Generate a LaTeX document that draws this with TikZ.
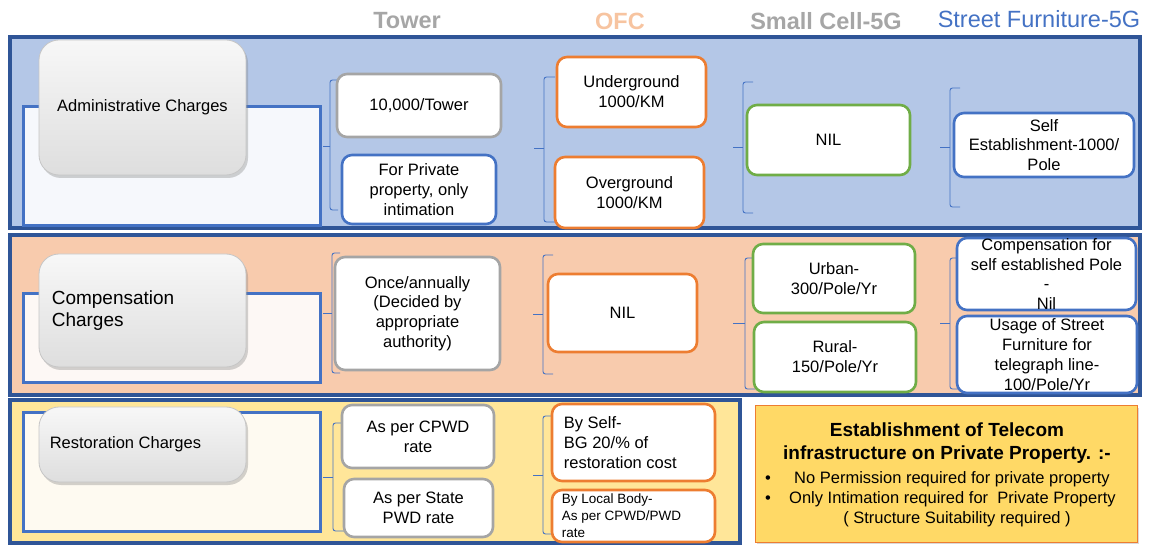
\documentclass[tikz,border=0pt]{standalone}
\usepackage{fontspec}
\setmainfont{Liberation Sans}
\usetikzlibrary{shadows}

\definecolor{frameblue}{HTML}{2F5597}
\definecolor{accblue}{HTML}{4472C4}
\definecolor{accorange}{HTML}{ED7D31}
\definecolor{accgreen}{HTML}{70AD47}
\definecolor{accgray}{HTML}{A5A5A5}
\definecolor{hdgray}{HTML}{A6A6A6}
\definecolor{hdpeach}{HTML}{F7C4A0}
\definecolor{bandblue}{HTML}{B4C7E7}
\definecolor{bandpeach}{HTML}{F8CBAD}
\definecolor{bandyellow}{HTML}{FFE699}
\definecolor{paneblue}{HTML}{F6F8FC}
\definecolor{panepeach}{HTML}{FDF8F5}
\definecolor{paneyellow}{HTML}{FEFAF1}
\definecolor{notefill}{HTML}{FFD966}

\newcommand\fs[1]{\fontsize{#1}{\dimexpr #1pt*6/5\relax}\selectfont}

\tikzset{
  x=1pt, y=-1pt,
  band/.style={draw=frameblue, line width=3.6pt},
  pane/.style={draw=accblue, line width=3pt},
  head/.style={draw=gray!45, line width=0.8pt, rounded corners=20pt,
    top color=gray!6, bottom color=gray!26,
    drop shadow={shadow xshift=2pt, shadow yshift=-3pt, opacity=0.35}},
  item/.style={fill=white, rounded corners=10pt, line width=2.6pt},
  grayitem/.style={item, draw=accgray},
  blueitem/.style={item, draw=accblue},
  orangeitem/.style={item, draw=accorange},
  greenitem/.style={item, draw=accgreen},
  note/.style={fill=notefill, draw=accorange, line width=1pt,
    drop shadow={shadow xshift=2pt, shadow yshift=-2pt, opacity=0.3}},
  txt/.style={align=center, font=\fs{16.5}, inner sep=0pt},
  brk/.style={draw=accblue, line width=0.9pt, rounded corners=2.5pt},
  colhead/.style={font=\bfseries\fs{23.5}},
}

% box from corner (x1,y1) to corner (x2,y2)
\newcommand\boxat[6]{\node[#1, inner sep=0pt,
    minimum width={(#5-#3)*1pt}, minimum height={(#6-#4)*1pt}]
    (#2) at ({(#3+#5)/2},{(#4+#6)/2}) {};}
% box with centred text
\newcommand\placebox[7]{\boxat{#1}{#2}{#3}{#4}{#5}{#6}%
  \node[txt] (#2-t) at (#2.center) {#7};}
% box with left-aligned text; the optional argument carries the indent
\newcommand\placeboxL[8][]{\boxat{#2}{#3}{#4}{#5}{#6}{#7}%
  \node[txt, align=left, anchor=west, #1] (#3-t) at (#3.west) {#8};}
% bracket: x, top, bottom, tip y, tip x, tick x
\newcommand\sidebrace[6]{%
  \draw[brk] (#6,#2) -- (#1,#2) -- (#1,#3) -- (#6,#3);
  \draw[brk] (#1,#4) -- (#5,#4);}

\begin{document}
\begin{tikzpicture}
\useasboundingbox (0,0) rectangle (1152,545);

% column headings
\node[colhead, text=hdgray] (h1) at (407,21) {Tower};
\node[colhead, text=hdpeach] (h2) at (620,21) {OFC};
\node[colhead, text=hdgray] (h3) at (826,21) {Small Cell-5G};
\node[font=\fs{23.5}, text=accblue] (h4) at (1039,19) {Street Furniture-5G};

% bands
\boxat{band, fill=bandblue}{b1}{10}{37}{1140}{228}
\boxat{band, fill=bandpeach}{b2}{10}{235}{1140}{395}
\boxat{band, fill=bandyellow}{b3}{10}{400}{740}{543}

% panes behind the row headings
\boxat{pane, fill=paneblue}{p1}{23}{107}{320}{226}
\boxat{pane, fill=panepeach}{p2}{23}{294}{320}{383}
\boxat{pane, fill=paneyellow}{p3}{23}{413}{320}{531}

% row headings
\placebox{head}{a0}{39}{40}{246}{175}{Administrative Charges}
\placeboxL[xshift=13pt, font=\fontsize{19}{21.5}\selectfont]{head}{c0}{39}{254}{246}{367}{Compensation\\Charges}
\placeboxL[xshift=11pt]{head}{r0}{39}{407}{246}{482}{Restoration Charges}

% ---- administrative charges
\sidebrace{330}{80}{210}{146}{323}{338}
\placebox{grayitem}{a1}{337}{74}{501}{137}{10,000/Tower}
\placebox{blueitem}{a2}{342}{155}{496}{224}{For Private\\property, only\\intimation}
\sidebrace{544}{77}{222}{148}{534}{555}
\placebox{orangeitem}{a3}{557}{57}{706}{127}{Underground\\1000/KM}
\placebox{orangeitem}{a4}{555}{157}{704}{228}{Overground\\1000/KM}
\sidebrace{743}{82}{213}{147}{733}{753}
\placebox{greenitem}{a5}{747}{105}{910}{175}{NIL}
\sidebrace{950}{88}{207}{147}{940}{960}
\placebox{blueitem}{a6}{954}{113}{1134}{177}{Self\\Establishment-1000/\\Pole}

% ---- compensation charges
\sidebrace{332}{253}{373}{313}{323}{340}
\placebox{grayitem}{c1}{335}{257}{500}{370}{Once/annually\\(Decided by\\appropriate\\authority)}
\sidebrace{543}{255}{374}{314}{533}{553}
\placebox{orangeitem}{c2}{548}{274}{697}{352}{NIL}
\sidebrace{745}{258}{389}{323}{733}{755}
\placebox{greenitem}{c3}{753}{244}{915}{313}{Urban-\\300/Pole/Yr}
\placebox{greenitem}{c4}{754}{322}{916}{392}{Rural-\\150/Pole/Yr}
\sidebrace{950}{258}{389}{323}{940}{960}
\placebox{blueitem}{c5}{957}{238}{1136}{310}{Compensation for\\self established Pole\\-\\Nil}
\placebox{blueitem}{c6}{957}{316}{1137}{393}{Usage of Street\\Furniture for\\telegraph line-\\100/Pole/Yr}

% ---- restoration charges
\sidebrace{333}{423}{531}{477}{323}{345}
\placebox{grayitem}{r1}{342}{405}{494}{468}{As per CPWD\\rate}
\placebox{grayitem}{r2}{344}{479}{493}{537}{As per State\\PWD rate}
\sidebrace{543}{416}{534}{475}{533}{553}
\placeboxL[xshift=13pt]{orangeitem}{r3}{552}{404}{715}{481}{By Self-\\BG 20/\% of\\restoration cost}
\placeboxL[xshift=11pt, font=\fontsize{13.5}{17}\selectfont]{orangeitem}{r4}{552}{490}{715}{542}{By Local Body-\\As per CPWD/PWD\\rate}

% ---- private property note
\boxat{note}{n0}{755}{406}{1137}{542}
\node[txt, font=\bfseries\fontsize{19}{23}\selectfont] (n1) at (947,443)
  {Establishment of Telecom\\infrastructure on Private Property. :-};
\node[txt, anchor=base west] (n2) at (765,483) {•};
\node[txt, anchor=base west] (n3) at (794,483) {No Permission required for private property};
\node[txt, anchor=base west] (n4) at (765,503) {•};
\node[txt, anchor=base west] (n5) at (789,503) {Only Intimation required for\ \ Private Property};
\node[txt, anchor=base] (n6) at (957,523) {( Structure Suitability required )};
\end{tikzpicture}
\end{document}
